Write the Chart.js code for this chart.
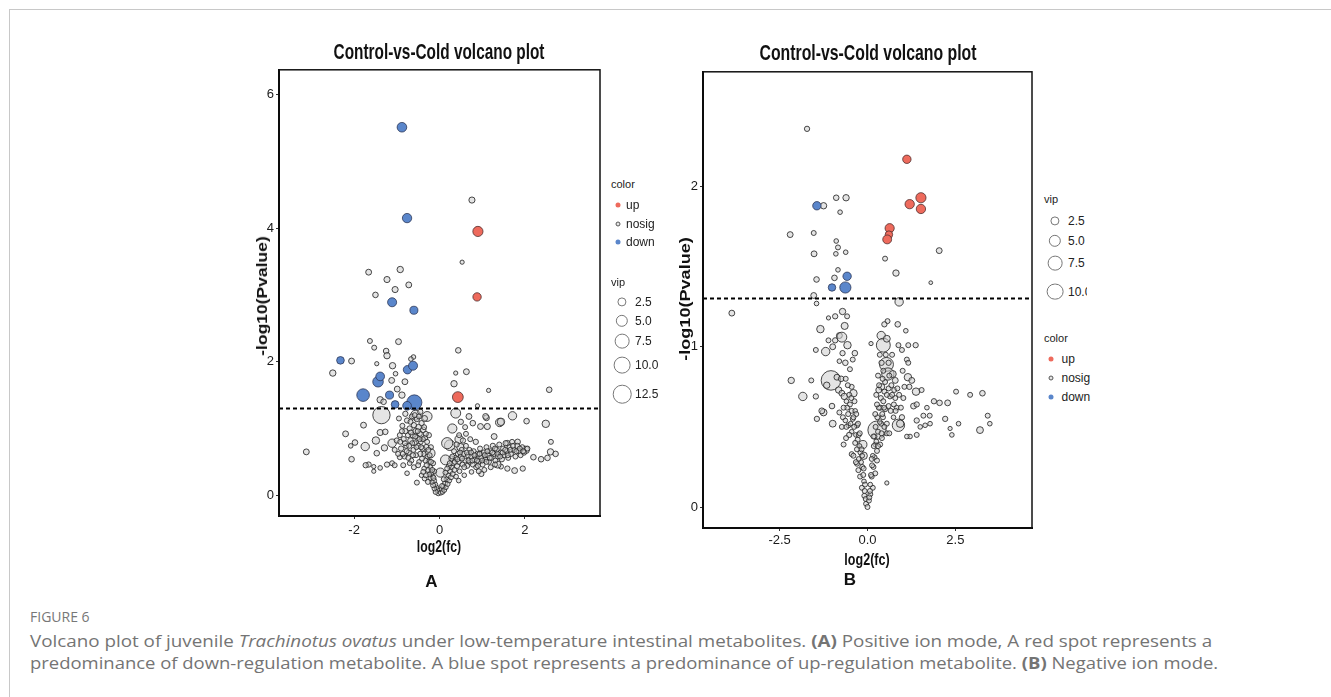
<!DOCTYPE html>
<html>
<head>
<meta charset="utf-8">
<script src="https://cdn.jsdelivr.net/npm/chart.js@4"></script>
<style>
  body { margin: 0; background: #fff; }
  #page { position: relative; width: 1331px; height: 697px; overflow: hidden; background: #fff; }
  #frame { position: absolute; left: 9px; top: 9px; width: 1400px; height: 800px;
           border-top: 1px solid #c8c8c8; border-left: 1px solid #c8c8c8; }
  canvas { position: absolute; }
  .t { position: absolute; white-space: nowrap; transform: translate(-50%, -50%); color: #111; line-height: 1; }
  .l { position: absolute; white-space: nowrap; transform: translateY(-50%); color: #222; line-height: 1; }
  .narrow { font-family: 'Liberation Sans Narrow', 'Liberation Sans', Arial, sans-serif; }
  .title { font-weight: bold; font-size: 22px; }
  .axt { font-weight: bold; font-size: 17px; }
  .yt { font-family: 'Liberation Sans', Arial, sans-serif; font-weight: bold; font-size: 14px; }
  .panel { font-family: 'Liberation Sans', Arial, sans-serif; font-weight: bold; font-size: 17px; }
  .lg { font-size: 12px; }
  .dot, .ring { position: absolute; border-radius: 50%; box-sizing: border-box; transform: translate(-50%, -50%); }
  .cap { position: absolute; left: 30px; white-space: nowrap; transform: translateY(-50%);
         font-family: 'Open Sans', 'Lato', sans-serif; color: #747474; line-height: 1; }
</style>
</head>
<body>
<div id="page">
  <div id="frame"></div>

  <canvas id="chartA" width="362" height="481" style="left:240px;top:60px"></canvas>
  <canvas id="chartB" width="374" height="491" style="left:660px;top:62px"></canvas>

  <div class="t narrow title" style="left:438.5px;top:51.5px" data-w="211">Control-vs-Cold volcano plot</div>
  <div class="t narrow title" style="left:867.5px;top:52.5px" data-w="217">Control-vs-Cold volcano plot</div>

  <div class="t yt" style="left:262px;top:296px" data-w="120" data-rot="1">-log10(Pvalue)</div>
  <div class="t yt" style="left:685px;top:299px" data-w="124" data-rot="1">-log10(Pvalue)</div>

  <div class="t narrow axt" style="left:439px;top:546px" data-w="44">log2(fc)</div>
  <div class="t narrow axt" style="left:867px;top:559px" data-w="45">log2(fc)</div>

  <div class="t panel" style="left:431.5px;top:581px">A</div>
  <div class="t panel" style="left:850px;top:579px">B</div>

  <div id="legendA"></div>
  <div id="legendB"></div>

  <div class="cap" style="top:617px;font-size:14px;color:#777">FIGURE 6</div>
  <div class="cap" style="top:641px;font-size:16px" data-w="1182">Volcano plot of juvenile <i>Trachinotus ovatus</i> under low-temperature intestinal metabolites. <b>(A)</b> Positive ion mode, A red spot represents a</div>
  <div class="cap" style="top:663px;font-size:16px" data-w="1188">predominance of down-regulation metabolite. A blue spot represents a predominance of up-regulation metabolite. <b>(B)</b> Negative ion mode.</div>
</div>

<script>
// ---- data: [log2(fc), -log10(Pvalue), vip] ----
const pCut = 0.05;

const aUp = [[0.90, 3.95, 3.2], [0.88, 2.97, 2], [0.43, 1.47, 3.7]];
const aDown = [
  [-0.88, 5.51, 2.8], [-0.76, 4.15, 2.6], [-1.11, 2.89, 2.4], [-0.60, 2.77, 1.8],
  [-2.32, 2.02, 1.6], [-1.44, 1.70, 3.5], [-1.39, 1.78, 2.2], [-1.79, 1.50, 5.3],
  [-1.17, 1.50, 1.8], [-1.04, 1.36, 1.6], [-0.75, 1.88, 2], [-0.62, 1.94, 2.4],
  [-0.59, 1.39, 8], [-0.76, 1.34, 2.2],
];
const aNosig = [
  [0.76, 4.42, 0.9], [0.53, 3.49, 0.3], [-1.66, 3.34, 0.8], [-0.92, 3.38, 1], [-1.23, 3.23, 0.9],
  [-1.04, 3.08, 0.9], [-0.72, 3.15, 0.8], [-1.50, 3.0, 0.7],
  [-1.63, 2.31, 0.5], [-0.96, 2.30, 0.8], [-1.53, 2.21, 0.5], [-1.25, 2.16, 0.7], [-1.23, 2.09, 1],
  [-2.06, 2.01, 0.8], [-2.50, 1.83, 1], [-1.47, 1.97, 0.3], [-1.10, 1.94, 1], [-0.61, 2.07, 0.4],
  [-0.67, 2.04, 0.4], [-1.03, 1.82, 0.4], [-1.12, 1.72, 0.8], [-0.81, 1.70, 0.8], [-0.99, 1.59, 0.8],
  [-0.88, 1.50, 1], [-1.39, 1.43, 1], [-1.31, 1.40, 0.7],
  [0.44, 2.17, 0.7], [0.38, 1.83, 0.3], [0.63, 1.85, 0.8], [0.34, 1.67, 1], [1.15, 1.57, 0.3],
  [2.57, 1.58, 0.7], [0.89, 1.34, 0.3],
  [-1.36, 1.20, 10.7], [-0.56, 1.20, 3], [-0.29, 1.18, 3], [0.38, 1.23, 3], [1.71, 1.19, 2],
  [1.41, 1.09, 2], [2.49, 1.07, 1.5], [2.04, 1.11, 0.7], [1.10, 1.16, 0.8], [1.12, 1.03, 0.9],
  [0.69, 1.18, 0.8], [0.78, 1.08, 0.7], [-1.78, 1.05, 0.8], [-2.20, 0.92, 0.8], [-1.98, 0.79, 0.7],
  [-1.74, 0.73, 2], [-2.08, 0.74, 0.4], [-3.12, 0.65, 0.8], [-2.06, 0.54, 0.7], [-1.47, 0.63, 0.7],
  [-1.29, 0.71, 1], [-1.49, 0.82, 1.5], [-1.11, 0.78, 2], [-1.39, 0.94, 0.9], [-1.27, 0.95, 0.7],
  [-1.66, 0.46, 0.6], [-1.73, 0.45, 0.6], [-1.54, 0.43, 0.3], [-1.54, 0.36, 0.3], [-1.39, 0.41, 0.4],
  [-1.23, 0.46, 0.6], [-1.11, 0.48, 0.5], [-1.05, 0.45, 0.5], [-0.93, 0.57, 0.5], [-0.76, 0.33, 0.4],
  [-0.53, 0.19, 0.5], [-0.22, 0.63, 3], [0.24, 0.75, 3.5], [0.30, 1.00, 2.5], [0.46, 0.84, 2],
  [0.49, 0.72, 1.5], [0.02, 0.34, 2.5], [0.96, 0.58, 3], [1.28, 0.88, 0.8], [1.59, 0.78, 0.7],
  [1.83, 0.80, 0.7], [2.02, 0.68, 1.5], [2.20, 0.57, 0.7], [2.38, 0.54, 0.7], [2.53, 0.56, 0.7],
  [2.61, 0.80, 0.5], [2.60, 0.65, 1], [2.72, 0.62, 0.7], [1.76, 0.37, 0.8], [1.95, 0.40, 0.6],
  [1.59, 0.40, 0.6], [1.44, 0.43, 0.5], [1.36, 0.46, 1.3], [0.98, 0.32, 0.6],
  [0.18, 0.78, 4], [0.14, 0.53, 3], [1.44, 1.10, 1.5], [1.08, 1.18, 0.8], [0.96, 1.03, 0.8],
  // left arm of the V
  [-0.03, 0.03, 0.5], [-0.05, 0.08, 0.5], [-0.07, 0.12, 0.4], [-0.09, 0.05, 0.5], [-0.1, 0.16, 0.5],
  [-0.12, 0.1, 0.4], [-0.13, 0.22, 0.6], [-0.15, 0.15, 0.5], [-0.16, 0.28, 0.5], [-0.18, 0.2, 0.4],
  [-0.19, 0.34, 0.6], [-0.21, 0.26, 0.5], [-0.22, 0.42, 0.5], [-0.24, 0.31, 0.4], [-0.25, 0.5, 0.6],
  [-0.27, 0.38, 0.5], [-0.28, 0.58, 0.5], [-0.3, 0.45, 0.6], [-0.31, 0.72, 0.7], [-0.33, 0.52, 0.5],
  [-0.34, 0.86, 0.6], [-0.36, 0.4, 0.4], [-0.37, 0.62, 0.5], [-0.38, 0.98, 0.7], [-0.4, 0.7, 0.6],
  [-0.41, 0.55, 0.5], [-0.42, 1.08, 0.6], [-0.44, 0.8, 0.5], [-0.45, 0.62, 0.6], [-0.46, 0.92, 0.5],
  [-0.48, 0.5, 0.4], [-0.49, 1.02, 0.7], [-0.5, 0.74, 0.6], [-0.52, 0.86, 0.5], [-0.53, 1.14, 0.6],
  [-0.55, 0.6, 0.5], [-0.56, 0.96, 0.7], [-0.58, 0.78, 0.5], [-0.6, 1.05, 0.6], [-0.61, 0.68, 0.5],
  [-0.63, 0.9, 0.6], [-0.65, 1.18, 0.5], [-0.66, 0.52, 0.5], [-0.68, 0.82, 0.7], [-0.7, 1.0, 0.6],
  [-0.72, 0.64, 0.5], [-0.74, 0.9, 0.5], [-0.76, 1.12, 0.6], [-0.78, 0.74, 0.5], [-0.8, 0.96, 0.6],
  [-0.82, 0.58, 0.5], [-0.84, 0.84, 0.6], [-0.87, 1.04, 0.5], [-0.9, 0.7, 0.6], [-0.93, 0.9, 0.5],
  [-0.97, 0.62, 0.5], [-1.0, 0.82, 0.6], [-1.05, 0.68, 0.5], [-0.35, 1.15, 0.8], [-0.25, 0.9, 0.6],
  [-0.2, 0.72, 0.5], [-0.15, 0.48, 0.5], [-0.12, 0.36, 0.4], [-0.45, 1.25, 0.6], [-0.8, 1.22, 0.6],
  [-0.95, 1.15, 0.5], [-0.42, 0.3, 0.4], [-0.35, 0.25, 0.4], [-0.6, 0.42, 0.5], [-0.7, 0.48, 0.4],
  [-0.85, 0.45, 0.5],
  [-0.14, 0.26, 0.5], [-0.17, 0.38, 0.5], [-0.2, 0.5, 0.5], [-0.23, 0.6, 0.5], [-0.26, 0.68, 0.5],
  [-0.29, 0.8, 0.5], [-0.32, 0.92, 0.5], [-0.36, 1.02, 0.5], [-0.39, 0.84, 0.5], [-0.43, 0.72, 0.5],
  [-0.47, 0.84, 0.5], [-0.51, 0.96, 0.5], [-0.54, 0.72, 0.5], [-0.57, 0.88, 0.5], [-0.62, 0.6, 0.5],
  [-0.64, 0.78, 0.5], [-0.67, 0.94, 0.5], [-0.71, 0.74, 0.5], [-0.73, 0.56, 0.5], [-0.77, 0.66, 0.5],
  [-0.81, 0.78, 0.5], [-0.86, 0.62, 0.5], [-0.88, 0.96, 0.5], [-0.92, 0.8, 0.5], [-0.58, 1.2, 0.5],
  [-0.48, 1.18, 0.5], [-0.68, 1.1, 0.5], [-0.27, 0.2, 0.5], [-0.32, 0.3, 0.5], [-0.38, 0.35, 0.5],
  [-0.5, 0.45, 0.5],
  // right arm and band
  [0.03, 0.04, 0.5], [0.05, 0.09, 0.5], [0.07, 0.05, 0.4], [0.09, 0.13, 0.5], [0.11, 0.08, 0.5],
  [0.13, 0.18, 0.5], [0.15, 0.12, 0.4], [0.17, 0.24, 0.6], [0.19, 0.17, 0.5], [0.21, 0.3, 0.5],
  [0.23, 0.22, 0.4], [0.25, 0.36, 0.6], [0.27, 0.27, 0.5], [0.29, 0.42, 0.5], [0.31, 0.32, 0.5],
  [0.33, 0.48, 0.6], [0.35, 0.38, 0.5], [0.37, 0.56, 0.5], [0.39, 0.28, 0.4], [0.41, 0.44, 0.6],
  [0.43, 0.62, 0.5], [0.45, 0.5, 0.5], [0.47, 0.36, 0.4], [0.5, 0.58, 0.6], [0.52, 0.68, 0.5],
  [0.54, 0.46, 0.5], [0.57, 0.62, 0.6], [0.6, 0.52, 0.5], [0.62, 0.74, 0.5], [0.65, 0.44, 0.5],
  [0.67, 0.6, 0.6], [0.7, 0.68, 0.5], [0.72, 0.5, 0.5], [0.75, 0.58, 0.6], [0.78, 0.46, 0.5],
  [0.8, 0.66, 0.5], [0.83, 0.54, 0.6], [0.86, 0.42, 0.5], [0.89, 0.62, 0.5], [0.92, 0.5, 0.6],
  [0.95, 0.7, 0.5], [0.98, 0.56, 0.5], [1.01, 0.46, 0.5], [1.04, 0.64, 0.6], [1.07, 0.54, 0.5],
  [1.1, 0.72, 0.5], [1.13, 0.6, 0.6], [1.16, 0.5, 0.5], [1.19, 0.66, 0.5], [1.22, 0.56, 0.5],
  [1.25, 0.74, 0.6], [1.28, 0.62, 0.5], [1.31, 0.52, 0.5], [1.34, 0.68, 0.6], [1.37, 0.58, 0.5],
  [1.4, 0.76, 0.5], [1.43, 0.64, 0.5], [1.46, 0.54, 0.6], [1.49, 0.7, 0.5], [1.52, 0.6, 0.5],
  [1.55, 0.78, 0.6], [1.58, 0.66, 0.5], [1.61, 0.56, 0.5], [1.64, 0.72, 0.5], [1.67, 0.62, 0.6],
  [1.7, 0.8, 0.5], [1.74, 0.68, 0.5], [1.78, 0.58, 0.5], [1.82, 0.74, 0.6], [1.86, 0.66, 0.5],
  [1.9, 0.6, 0.5], [1.94, 0.72, 0.5], [1.98, 0.64, 0.6], [2.06, 0.7, 0.5], [0.22, 0.44, 0.5],
  [0.28, 0.55, 0.6], [0.34, 0.66, 0.5], [0.4, 0.76, 0.6], [0.46, 0.9, 0.5], [0.55, 0.82, 0.6],
  [0.62, 0.92, 0.5], [0.72, 0.84, 0.5], [0.85, 0.8, 0.6], [0.6, 1.02, 0.5], [0.5, 1.1, 0.6],
  [0.92, 0.36, 0.5], [1.05, 0.38, 0.5], [1.2, 0.42, 0.5], [0.75, 0.35, 0.4], [0.58, 0.3, 0.4],
  [0.45, 0.22, 0.4],
  [0.06, 0.14, 0.5], [0.1, 0.24, 0.5], [0.14, 0.34, 0.5], [0.18, 0.4, 0.5], [0.24, 0.48, 0.5],
  [0.3, 0.58, 0.5], [0.36, 0.5, 0.5], [0.42, 0.54, 0.5], [0.48, 0.64, 0.5], [0.53, 0.55, 0.5],
  [0.58, 0.42, 0.5], [0.64, 0.64, 0.5], [0.68, 0.52, 0.5], [0.74, 0.64, 0.5], [0.77, 0.52, 0.5],
  [0.82, 0.6, 0.5], [0.88, 0.52, 0.5], [0.94, 0.62, 0.5], [1.0, 0.52, 0.5], [1.06, 0.6, 0.5],
  [1.12, 0.66, 0.5], [1.18, 0.56, 0.5], [1.24, 0.64, 0.5], [1.3, 0.7, 0.5], [1.36, 0.62, 0.5],
  [1.42, 0.58, 0.5], [1.48, 0.64, 0.5], [1.54, 0.68, 0.5], [1.6, 0.6, 0.5], [1.66, 0.68, 0.5],
  [1.72, 0.74, 0.5], [1.8, 0.66, 0.5], [1.88, 0.7, 0.5], [1.96, 0.66, 0.5], [0.9, 0.44, 0.5],
  [1.1, 0.5, 0.5], [1.3, 0.46, 0.5],
];

const bUp = [
  [1.12, 2.17, 2], [1.20, 1.89, 2.6], [1.52, 1.93, 3.2], [1.52, 1.86, 2.6],
  [0.63, 1.74, 2.5], [0.61, 1.70, 1.5], [0.56, 1.67, 2.3],
];
const bDown = [[-1.44, 1.88, 2], [-0.58, 1.44, 2], [-0.63, 1.37, 4], [-1.01, 1.37, 1.5]];
const bNosig = [
  [-1.72, 2.36, 0.6], [-1.25, 1.88, 1], [-0.89, 1.93, 0.7], [-0.61, 1.93, 1], [-0.78, 1.84, 0.4],
  [-2.2, 1.7, 0.8], [-1.53, 1.71, 0.5], [-0.89, 1.66, 0.4], [-0.84, 1.62, 0.5], [-0.9, 1.58, 0.4],
  [-0.62, 1.59, 0.4], [-1.52, 1.58, 0.8], [2.04, 1.6, 0.8], [0.5, 1.55, 0.5], [0.81, 1.46, 1],
  [1.8, 1.4, 0.2], [-0.84, 1.48, 0.4], [-0.94, 1.43, 0.7], [-1.45, 1.42, 0.7], [-1.53, 1.32, 0.8],
  [-1.45, 1.27, 0.4], [0.9, 1.28, 2], [-3.86, 1.21, 0.8],
  [-0.71, 1.22, 1], [-0.92, 1.19, 0.6], [-1.11, 1.18, 0.3], [-0.58, 1.19, 0.5], [-1.34, 1.11, 1.5],
  [-0.65, 1.13, 1.3], [-0.8, 1.07, 0.8], [-0.73, 1.06, 3], [-1.11, 1.04, 0.5], [-0.92, 1.04, 0.6],
  [-0.99, 1.0, 0.8], [-0.57, 1.01, 1.5], [-1.47, 0.98, 0.5], [-1.19, 0.97, 2], [-0.71, 0.96, 0.6],
  [-0.36, 0.96, 0.7], [-0.8, 0.91, 0.4], [-0.63, 0.9, 0.7], [-1.04, 0.79, 14], [-1.16, 0.76, 1],
  [-0.87, 0.81, 0.8], [-0.75, 0.8, 0.7], [-2.17, 0.79, 1], [-1.6, 0.79, 0.5], [-1.84, 0.69, 2],
  [-1.47, 0.69, 0.6], [-0.82, 0.73, 1], [-0.73, 0.71, 0.8], [-0.66, 0.69, 1], [-0.4, 0.71, 1.5],
  [-1.01, 0.63, 0.7], [-1.25, 0.59, 1.2], [-1.3, 0.6, 0.8], [-0.8, 0.59, 0.5], [-1.44, 0.55, 0.6],
  [-0.99, 0.52, 1.2], [-0.7, 0.56, 0.5], [-0.63, 0.54, 0.4], [-0.54, 0.51, 0.5], [-0.3, 0.51, 0.6],
  [-0.73, 0.5, 0.5], [-0.45, 0.47, 0.4], [-0.52, 0.45, 0.6], [-0.61, 0.43, 0.5], [-0.68, 0.39, 0.5],
  [-0.13, 0.39, 1.8], [-0.45, 0.33, 0.5], [-0.4, 0.32, 0.5], [-0.11, 0.32, 1.5], [-0.3, 0.27, 0.5],
  [-0.26, 0.23, 0.5], [-0.21, 0.19, 0.5], [-0.16, 0.12, 0.5], [-0.09, 0.07, 0.5], [-0.04, 0.02, 0.5],
  [0, 0, 0.5],
  [-0.05, 0.05, 0.5], [-0.08, 0.1, 0.5], [-0.1, 0.16, 0.4], [-0.12, 0.2, 0.5], [-0.15, 0.25, 0.5],
  [-0.18, 0.28, 0.4], [-0.2, 0.34, 0.5], [-0.23, 0.38, 0.5], [-0.25, 0.3, 0.4], [-0.28, 0.42, 0.5],
  [-0.3, 0.36, 0.5], [-0.33, 0.45, 0.4], [-0.35, 0.4, 0.5], [-0.38, 0.5, 0.5], [-0.42, 0.55, 0.5],
  [-0.45, 0.6, 0.5], [-0.48, 0.52, 0.4], [-0.5, 0.64, 0.5], [-0.55, 0.58, 0.5], [-0.58, 0.62, 0.5],
  [-0.6, 0.66, 0.4], [-0.52, 0.7, 0.5], [-0.45, 0.75, 0.5], [-0.35, 0.6, 0.4], [-0.25, 0.45, 0.5],
  [-0.15, 0.32, 0.4],
  [-0.07, 0.14, 0.5], [-0.11, 0.24, 0.5], [-0.17, 0.36, 0.5], [-0.22, 0.46, 0.5], [-0.27, 0.52, 0.5],
  [-0.32, 0.58, 0.5], [-0.37, 0.66, 0.5], [-0.4, 0.56, 0.5], [-0.46, 0.68, 0.5], [-0.56, 0.76, 0.5],
  [-0.62, 0.8, 0.5], [-0.5, 0.86, 0.5], [-0.42, 0.92, 0.5], [-0.68, 0.62, 0.5], [-0.6, 0.5, 0.5],
  [-0.33, 0.28, 0.5],
  [0.57, 1.16, 0.5], [0.48, 1.14, 0.6], [0.86, 1.14, 0.7], [0.39, 1.07, 2], [0.45, 1.01, 6.6],
  [0.55, 1.05, 1.2], [0.1, 1.02, 0.3], [1.09, 1.1, 0.4], [0.88, 1.01, 0.5], [1.16, 1.01, 0.5],
  [1.37, 1.01, 0.6], [0.98, 0.98, 0.5], [1.12, 0.92, 0.5], [1.16, 0.9, 0.5], [0.54, 0.89, 6.6],
  [0.58, 0.83, 5], [0.72, 0.83, 1.2], [1.15, 0.81, 1.5], [1.26, 0.79, 0.8], [0.79, 0.79, 0.8],
  [0.4, 0.75, 1], [0.32, 0.73, 0.8], [0.6, 0.74, 0.5], [0.76, 0.73, 0.5], [1.19, 0.75, 0.6],
  [1.38, 0.72, 1.5], [1.54, 0.73, 0.5], [0.64, 0.69, 0.5], [0.79, 0.68, 0.5], [1.31, 0.63, 0.8],
  [1.4, 0.64, 0.6], [1.89, 0.66, 0.6], [2.05, 0.65, 0.7], [2.28, 0.65, 0.8], [2.52, 0.72, 0.5],
  [2.92, 0.7, 0.5], [3.27, 0.71, 0.7], [3.42, 0.57, 0.5], [3.48, 0.52, 0.4], [3.2, 0.48, 1.2],
  [2.21, 0.55, 0.6], [2.59, 0.52, 0.4], [2.35, 0.49, 0.3], [2.4, 0.45, 0.4], [1.69, 0.62, 0.4],
  [1.77, 0.57, 0.5], [1.59, 0.57, 0.5], [1.78, 0.52, 0.4], [1.64, 0.51, 0.4], [1.5, 0.5, 0.4],
  [1.4, 0.54, 0.6], [1.4, 0.45, 0.5], [1.21, 0.44, 0.4], [1.12, 0.44, 0.4], [0.88, 0.51, 5],
  [0.93, 0.52, 1.5], [0.98, 0.56, 0.6], [0.27, 0.48, 12], [0.39, 0.52, 0.5], [0.44, 0.56, 0.5],
  [0.36, 0.62, 0.6], [0.5, 0.61, 0.5], [0.6, 0.63, 0.5], [0.83, 0.62, 0.5], [0.74, 0.56, 0.4],
  [0.55, 0.52, 0.5], [0.55, 0.46, 0.5], [0.41, 0.43, 0.5], [0.36, 0.39, 0.5], [0.22, 0.39, 0.4],
  [0.27, 0.35, 0.5], [0.2, 0.31, 0.5], [0.27, 0.29, 0.5], [0.17, 0.25, 0.5], [0.22, 0.21, 0.5],
  [0.12, 0.19, 0.5], [0.55, 0.15, 0.3], [0.15, 0.12, 0.5], [0.08, 0.08, 0.5], [0.04, 0.04, 0.5],
  [0.05, 0.06, 0.5], [0.08, 0.14, 0.4], [0.1, 0.2, 0.5], [0.13, 0.26, 0.5], [0.15, 0.32, 0.4],
  [0.18, 0.38, 0.5], [0.2, 0.44, 0.5], [0.23, 0.5, 0.5], [0.25, 0.41, 0.4], [0.28, 0.56, 0.5],
  [0.3, 0.47, 0.5], [0.32, 0.62, 0.5], [0.35, 0.53, 0.4], [0.38, 0.68, 0.5], [0.42, 0.58, 0.5],
  [0.45, 0.66, 0.5], [0.48, 0.72, 0.5], [0.5, 0.78, 0.5], [0.45, 0.85, 0.5], [0.4, 0.9, 0.6],
  [0.52, 0.95, 0.5], [0.35, 0.95, 0.5], [0.3, 0.82, 0.5], [0.25, 0.7, 0.5], [0.6, 0.9, 0.6],
  [0.7, 0.95, 0.5], [0.7, 0.7, 0.5], [0.8, 0.6, 0.5], [0.9, 0.7, 0.5], [1.0, 0.85, 0.5],
  [1.05, 0.75, 0.5],
  [0.07, 0.1, 0.5], [0.12, 0.3, 0.5], [0.17, 0.44, 0.5], [0.22, 0.58, 0.5], [0.27, 0.64, 0.5],
  [0.33, 0.76, 0.5], [0.43, 0.8, 0.5], [0.47, 0.62, 0.5], [0.55, 0.7, 0.5], [0.62, 0.82, 0.5],
  [0.66, 0.6, 0.5], [0.68, 0.76, 0.5], [0.75, 0.64, 0.5], [0.85, 0.74, 0.5], [0.95, 0.62, 0.5],
  [1.02, 0.68, 0.5], [0.4, 0.46, 0.5], [0.3, 0.38, 0.5], [0.48, 0.5, 0.5], [0.62, 0.46, 0.5],
];

const aXRange = [-3.76, 3.76], aYRange = [-0.31, 6.37];
const bXRange = [-4.68, 4.68], bYRange = [-0.131, 2.716];
const aXTicks = [-2, 0, 2], aYTicks = [0, 2, 4, 6];
const bXTicks = [-2.5, 0, 2.5], bYTicks = [0, 1, 2];
const aVipBreaks = [2.5, 5, 7.5, 10, 12.5];
const bVipBreaks = [2.5, 5, 7.5, 10];
const groups = ['up', 'nosig', 'down'];

// ---- styles ----
const RED = '#ee6a5c', BLUE = '#5a86cb';
const NOSIG_FILL = 'rgba(205,205,205,0.55)', NOSIG_EDGE = 'rgba(40,40,40,0.85)';
const TICKFONT = "'Liberation Sans', Arial, sans-serif";

function vipRadius(v) { return 0.8 + 2.4 * Math.sqrt(v); }

const boxPlugin = {
  id: 'box',
  afterDraw(chart) {
    const { ctx, chartArea: a } = chart;
    ctx.save();
    ctx.strokeStyle = '#111';
    ctx.lineWidth = 1.5;
    ctx.strokeRect(a.left, a.top, a.right - a.left, a.bottom - a.top);
    ctx.restore();
  }
};

function axis(range, ticks, dec, fitProp, fitSize, pad) {
  return {
    type: 'linear', min: range[0], max: range[1],
    afterFit: s => { s[fitProp] = fitSize; },
    afterBuildTicks: s => { s.ticks = ticks.map(v => ({ value: v })); },
    ticks: {
      callback: v => v.toFixed(dec), autoSkip: false, maxRotation: 0, padding: pad,
      color: '#1a1a1a', font: { family: TICKFONT, size: 13 }
    },
    grid: { drawOnChartArea: false, drawTicks: true, tickLength: 3, color: '#333' },
    border: { display: true, color: '#000', width: 2 }
  };
}

function volcano(id, up, down, nosig, xr, yr, xt, yt, xdec, ylw, xpad) {
  const pts = arr => arr.map(([x, y, v]) => ({ x: x, y: y, r: vipRadius(v) }));
  const cut = -Math.log10(pCut);
  return new Chart(document.getElementById(id), {
    type: 'bubble',
    data: {
      datasets: [
        { type: 'line', data: [{ x: xr[0], y: cut }, { x: xr[1], y: cut }], borderColor: '#000',
          borderWidth: 2, borderDash: [4, 3], pointRadius: 0, fill: false },
        { label: 'up', data: pts(up), backgroundColor: RED, borderColor: 'rgba(70,40,40,0.75)', borderWidth: 1 },
        { label: 'down', data: pts(down), backgroundColor: BLUE, borderColor: 'rgba(40,50,80,0.75)', borderWidth: 1 },
        { label: 'nosig', data: pts(nosig), backgroundColor: NOSIG_FILL, borderColor: NOSIG_EDGE, borderWidth: 1 }
      ]
    },
    options: {
      responsive: false, animation: false, events: [],
      layout: { padding: { top: 9, right: 2, left: 0, bottom: 0 }, autoPadding: false },
      plugins: { legend: { display: false }, tooltip: { enabled: false } },
      scales: {
        x: axis(xr, xt, xdec, 'height', 25, xpad),
        y: axis(yr, yt, 0, 'width', ylw, 2)
      }
    },
    plugins: [boxPlugin]
  });
}

volcano('chartA', aUp, aDown, aNosig, aXRange, aYRange, aXTicks, aYTicks, 0, 39, 4);
volcano('chartB', bUp, bDown, bNosig, bXRange, bYRange, bXTicks, bYTicks, 1, 43, 2);

// ---- legends ----
function el(parent, cls, style, text) {
  const d = document.createElement('div');
  d.className = cls;
  Object.assign(d.style, style);
  if (text !== undefined) d.textContent = text;
  parent.appendChild(d);
  return d;
}
function colorLegend(host, x, titleY, ys, dotX, textX) {
  el(host, 'l narrow lg', { left: x + 'px', top: titleY + 'px', fontSize: '11px' }, 'color');
  const fills = { up: RED, nosig: 'rgba(212,212,212,0.6)', down: BLUE };
  groups.forEach((g, i) => {
    el(host, 'dot', { left: dotX + 'px', top: ys[i] + 'px', width: '5px', height: '5px',
      background: fills[g], border: g === 'nosig' ? '1px solid #555' : 'none' });
    el(host, 'l narrow lg', { left: textX + 'px', top: ys[i] + 'px' }, g);
  });
}
function vipLegend(host, x, titleY, ys, cx, textX, breaks, clipW) {
  el(host, 'l narrow lg', { left: x + 'px', top: titleY + 'px', fontSize: '11px' }, 'vip');
  breaks.forEach((b, i) => {
    const d = 2 * vipRadius(b);
    el(host, 'ring', { left: cx + 'px', top: ys[i] + 'px', width: d + 'px', height: d + 'px',
      border: '1px solid #777' });
    const t = el(host, 'l narrow lg', { left: textX + 'px', top: ys[i] + 'px' }, b.toFixed(1));
    if (clipW) { t.style.width = clipW + 'px'; t.style.overflow = 'hidden'; }
  });
}
const lgA = document.getElementById('legendA');
colorLegend(lgA, 611, 184, [205, 224, 242], 617.5, 626);
vipLegend(lgA, 611, 282, [301.7, 321, 341.3, 365.3, 394], 622, 635, aVipBreaks);
const lgB = document.getElementById('legendB');
vipLegend(lgB, 1044, 199, [220.7, 241, 263, 291.7], 1055, 1068, bVipBreaks, 19);
colorLegend(lgB, 1044, 337.7, [359, 378, 396.7], 1051, 1061.5);

// ---- stretch labels to the measured widths ----
document.querySelectorAll('[data-w]').forEach(e => {
  const s = (+e.dataset.w) / e.offsetWidth;
  if (e.classList.contains('cap')) {
    e.style.transformOrigin = '0 50%';
    e.style.transform = `translateY(-50%) scaleX(${s})`;
  } else {
    e.style.transform = `translate(-50%, -50%)${e.dataset.rot ? ' rotate(-90deg)' : ''} scaleX(${s})`;
  }
});
</script>
</body>
</html>
